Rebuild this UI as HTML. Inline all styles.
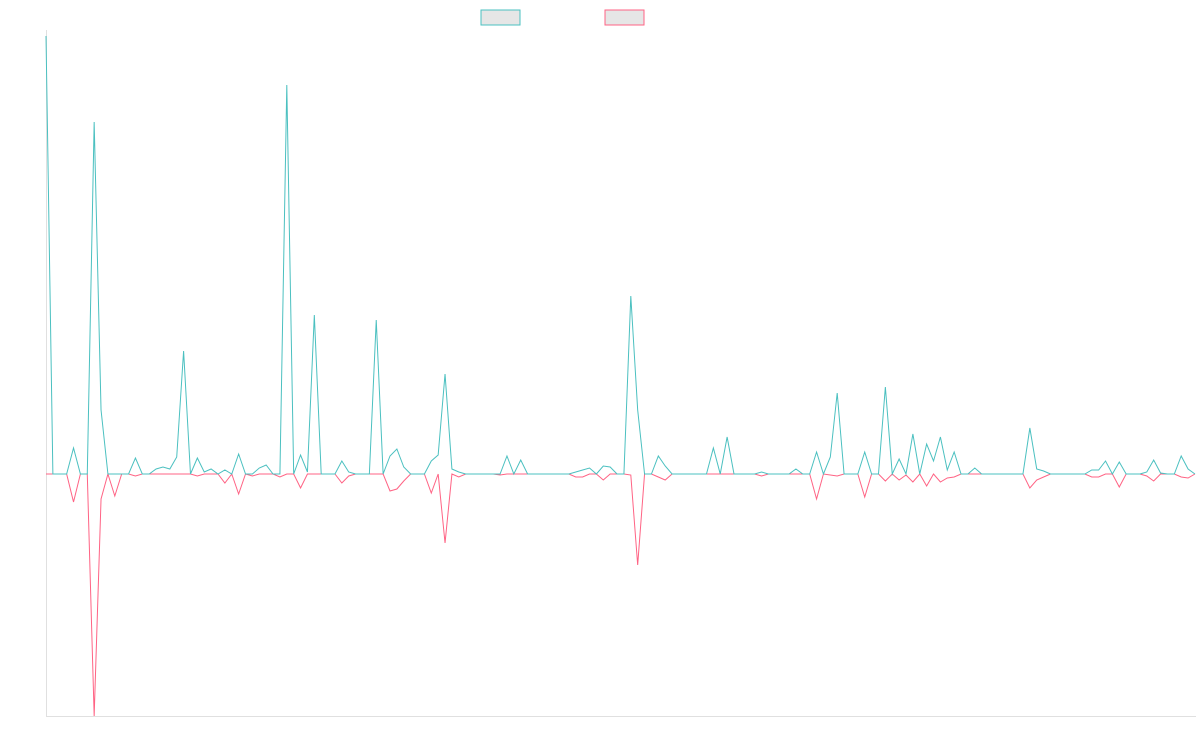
<!DOCTYPE html>
<html><head><meta charset="utf-8"><style>
html,body{margin:0;padding:0;background:#fff;}
svg{display:block}
</style></head><body>
<svg id="s" width="1200" height="750" xmlns="http://www.w3.org/2000/svg">
<line x1="46.5" y1="30" x2="46.5" y2="716.5" stroke="#e0e0e0" stroke-width="1"/>
<line x1="46" y1="716.5" x2="1196" y2="716.5" stroke="#e0e0e0" stroke-width="1"/>
<rect x="481" y="10" width="39" height="15" fill="#e6e6e6" stroke="#4bc0c0" stroke-width="1"/>
<rect x="605" y="10" width="39" height="15" fill="#e6e6e6" stroke="#ff6384" stroke-width="1"/>
<polyline id="p" fill="none" stroke="#ff6384" stroke-width="1" stroke-linejoin="miter"/>
<polyline id="t" fill="none" stroke="#4bc0c0" stroke-width="1" stroke-linejoin="miter"/>
</svg>
<script>
var N=168,T=[],P=[];for(var i=0;i<N;i++){T.push(474);P.push(474);}
var to={0:36,4:448,7:122,8:410,13:458,16:469,17:467,18:469,19:457,20:351,22:458,23:472,24:469,26:470,28:454,31:468,32:465,35:85,37:455,38:472,39:315,43:461,44:472,48:320,50:456,51:449,52:467,56:461,57:455,58:374,59:469,60:472,67:456,69:460,
77:472,78:470,79:468,81:466,82:467,85:296,86:410,89:456,90:466,
97:448,99:437,104:472,109:469,112:452,114:457,115:393,119:452,122:387,124:459,126:434,128:444,129:461,130:437,131:470,132:452,135:468,143:428,144:469,145:471,152:470,153:470,154:461,156:462,160:472,161:460,162:473,165:456,166:469};
var po={4:502,7:716,8:499,10:496,13:476,22:476,26:483,28:494,30:476,34:477,37:488,43:483,44:476,50:491,51:489,52:481,56:493,58:543,60:477,66:475,
77:477,78:477,81:480,85:475,86:565,89:477,90:480,
104:476,112:499,114:475,115:476,119:497,122:481,124:480,125:475,126:482,128:486,130:482,131:478,132:477,143:488,144:480,145:477,152:477,153:477,156:487,160:476,161:481,165:477,166:478};
for(var k in to)T[k]=to[k];for(var k in po)P[k]=po[k];
function pts(a){return a.map(function(y,i){return (46+i*6.88).toFixed(2)+','+y}).join(' ');}
document.getElementById('t').setAttribute('points',pts(T));
document.getElementById('p').setAttribute('points',pts(P));
</script>
</body></html>
